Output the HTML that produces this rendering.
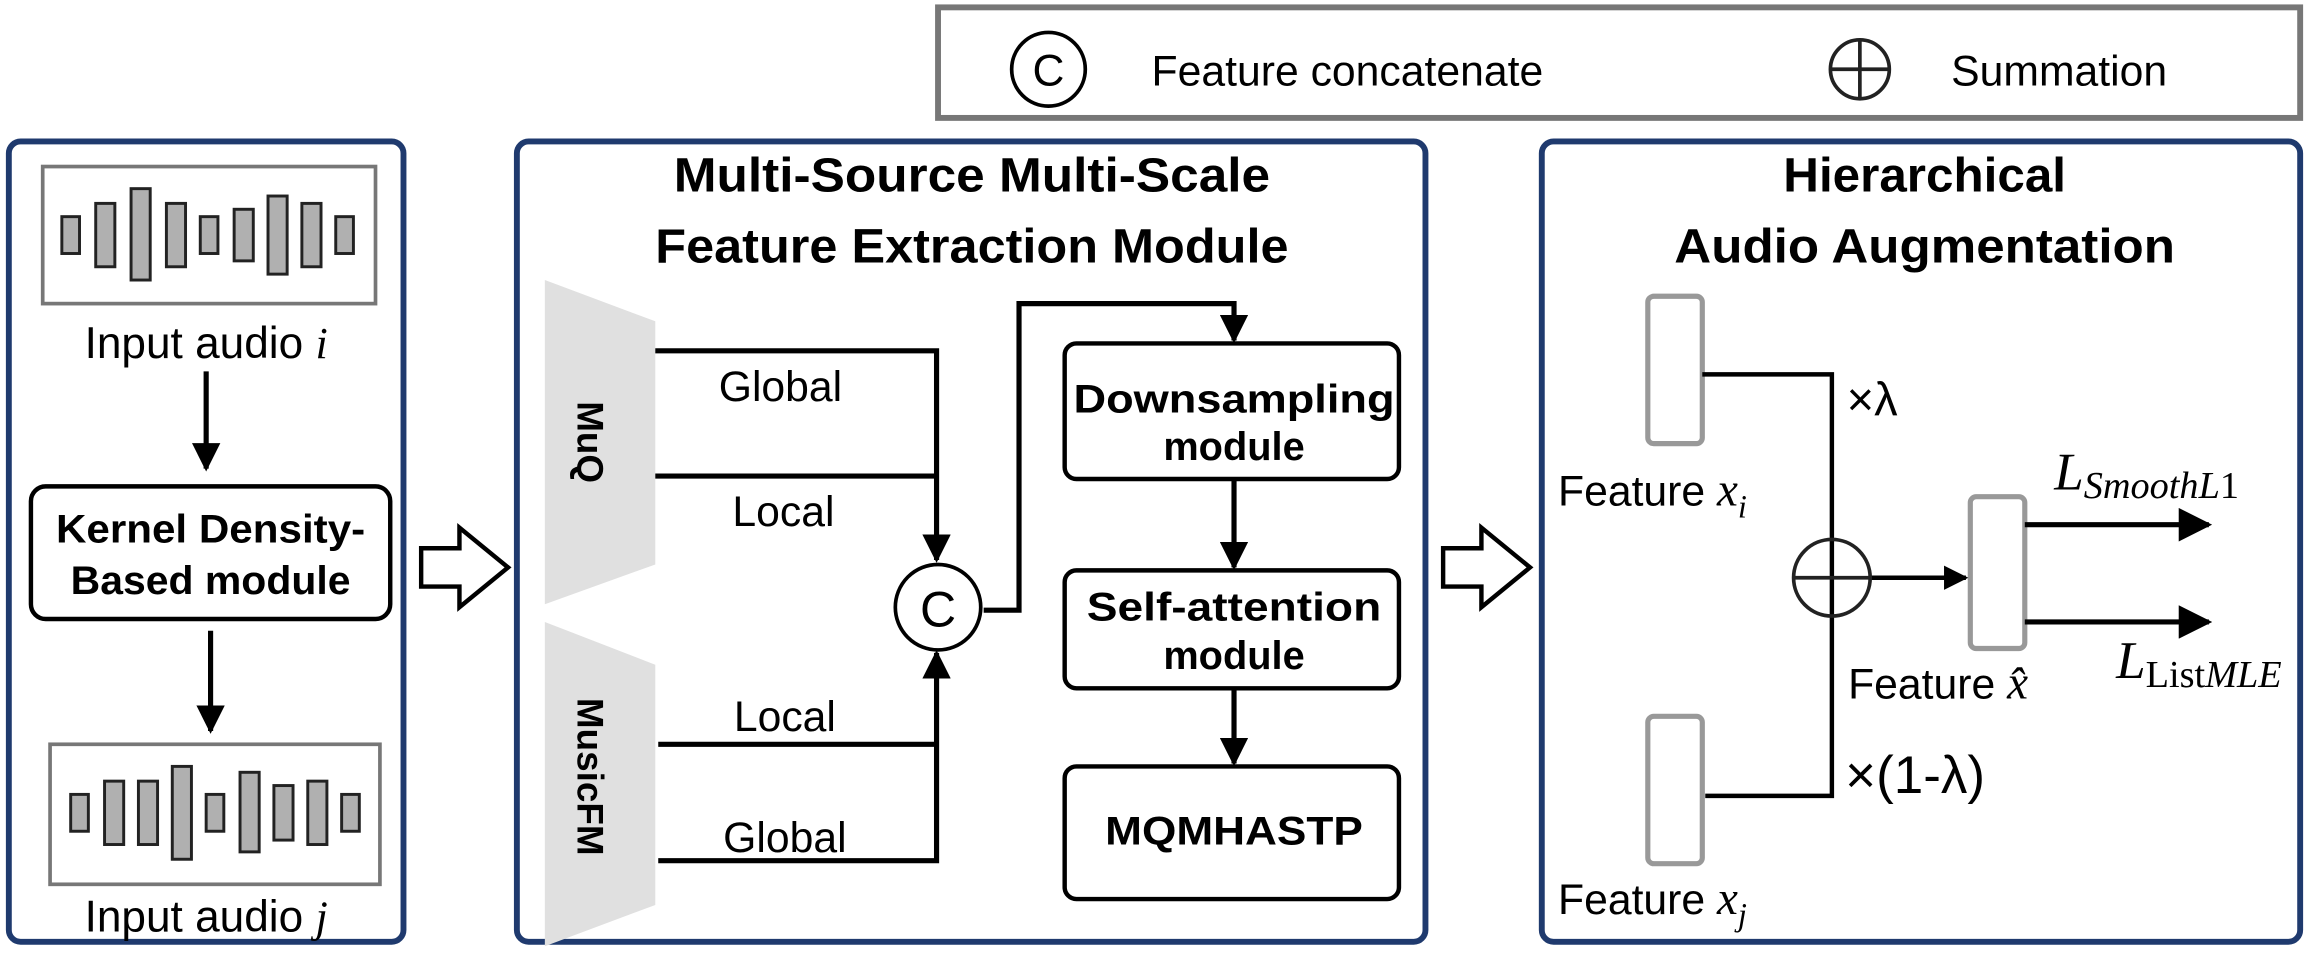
<!DOCTYPE html>
<html><head><meta charset="utf-8"><style>
html,body{margin:0;padding:0;background:#fff;}
svg{display:block;}
text{font-family:"Liberation Sans",sans-serif;}
.b{font-weight:bold;}
.m{font-family:"Liberation Serif",serif;font-style:italic;}
</style></head><body>
<svg width="2309" height="958" viewBox="0 0 1568 650" preserveAspectRatio="none" xmlns="http://www.w3.org/2000/svg">
<defs>
<marker id="ah" viewBox="0 0 10 10" refX="9" refY="5" markerWidth="5.5" markerHeight="5.5" orient="auto" markerUnits="strokeWidth">
<path d="M0,0 L10,5 L0,10 z" fill="#000"/></marker>
<marker id="ah2" viewBox="0 0 10 10" refX="9" refY="5" markerWidth="6.5" markerHeight="6.5" orient="auto" markerUnits="strokeWidth">
<path d="M0,0 L10,5 L0,10 z" fill="#000"/></marker>
</defs>
<!-- legend -->
<rect x="637" y="5" width="925" height="75" fill="#fff" stroke="#777" stroke-width="4"/>
<circle cx="712" cy="47" r="25" fill="none" stroke="#000" stroke-width="2.5"/>
<text x="712" y="58" font-size="30" text-anchor="middle">C</text>
<text x="782" y="58" font-size="29">Feature concatenate</text>
<circle cx="1263" cy="47" r="20" fill="none" stroke="#222" stroke-width="2.5"/>
<line x1="1243" y1="47" x2="1283" y2="47" stroke="#222" stroke-width="2.5"/>
<line x1="1263" y1="27" x2="1263" y2="67" stroke="#222" stroke-width="2.5"/>
<text x="1325" y="58" font-size="29">Summation</text>

<!-- left box -->
<rect x="6" y="96" width="268" height="543" rx="8" fill="#fff" stroke="#1f3a6e" stroke-width="4"/>
<rect x="29" y="113" width="226" height="93" fill="#fff" stroke="#777" stroke-width="2.5"/>
<g fill="#b0b0b0" stroke="#222" stroke-width="2">
<rect x="42" y="147" width="12" height="25"/><rect x="65" y="138" width="13" height="43"/><rect x="89" y="128" width="13" height="62"/><rect x="113" y="138" width="13" height="43"/><rect x="136" y="147" width="12" height="25"/><rect x="159" y="142" width="13" height="35"/><rect x="182" y="133" width="13" height="53"/><rect x="205" y="138" width="13" height="43"/><rect x="228" y="147" width="12" height="25"/>
</g>
<text x="140" y="243" font-size="30" text-anchor="middle">Input audio <tspan class="m">i</tspan></text>
<line x1="140" y1="252" x2="140" y2="318" stroke="#000" stroke-width="3.5" marker-end="url(#ah)"/>
<rect x="21" y="330" width="244" height="90" rx="10" fill="#fff" stroke="#000" stroke-width="3"/>
<text x="143" y="368" font-size="27" class="b" text-anchor="middle" textLength="210" lengthAdjust="spacingAndGlyphs">Kernel Density-</text>
<text x="143" y="403" font-size="27" class="b" text-anchor="middle" textLength="190" lengthAdjust="spacingAndGlyphs">Based module</text>
<line x1="143" y1="428" x2="143" y2="496" stroke="#000" stroke-width="3.5" marker-end="url(#ah)"/>
<rect x="34" y="505" width="224" height="95" fill="#fff" stroke="#777" stroke-width="2.5"/>
<g fill="#b0b0b0" stroke="#222" stroke-width="2">
<rect x="48" y="539" width="12" height="25"/><rect x="71" y="530" width="13" height="43"/><rect x="94" y="530" width="13" height="43"/><rect x="117" y="520" width="13" height="63"/><rect x="140" y="539" width="12" height="25"/><rect x="163" y="524" width="13" height="54"/><rect x="186" y="533" width="13" height="37"/><rect x="209" y="530" width="13" height="43"/><rect x="232" y="539" width="12" height="25"/>
</g>
<text x="140" y="632" font-size="30" text-anchor="middle">Input audio <tspan class="m">j</tspan></text>

<!-- hollow arrows -->
<path d="M286,372 L312,372 L312,358 L345,385 L312,412 L312,398 L286,398 Z" fill="#fff" stroke="#000" stroke-width="3"/>
<path d="M980,372 L1006,372 L1006,358 L1039,385 L1006,412 L1006,398 L980,398 Z" fill="#fff" stroke="#000" stroke-width="3"/>

<!-- middle box -->
<rect x="351" y="96" width="617" height="543" rx="8" fill="#fff" stroke="#1f3a6e" stroke-width="4"/>
<text x="660" y="130" font-size="33" class="b" text-anchor="middle" textLength="405" lengthAdjust="spacingAndGlyphs">Multi-Source Multi-Scale</text>
<text x="660" y="178" font-size="33" class="b" text-anchor="middle" textLength="430" lengthAdjust="spacingAndGlyphs">Feature Extraction Module</text>
<polygon points="370,190 445,218 445,383 370,410" fill="#e0e0e0"/>
<polygon points="370,422 445,451 445,614 370,642" fill="#e0e0e0"/>
<text transform="translate(392,300) rotate(90)" font-size="25" class="b" text-anchor="middle">MuQ</text>
<text transform="translate(392,527) rotate(90)" font-size="25" class="b" text-anchor="middle">MusicFM</text>
<g stroke="#000" stroke-width="3.5" fill="none">
<polyline points="445,238 636,238 636,380" marker-end="url(#ah)"/>
<line x1="445" y1="323" x2="636" y2="323"/>
<polyline points="447,584 636,584 636,443" marker-end="url(#ah)"/>
<line x1="447" y1="505" x2="636" y2="505"/>
<polyline points="668,414 692,414 692,206 838,206 838,231" marker-end="url(#ah)"/>
<line x1="838" y1="326" x2="838" y2="385" marker-end="url(#ah)"/>
<line x1="838" y1="468" x2="838" y2="518" marker-end="url(#ah)"/>
</g>
<text x="530" y="272" font-size="29" text-anchor="middle">Global</text>
<text x="532" y="357" font-size="29" text-anchor="middle">Local</text>
<text x="533" y="496" font-size="29" text-anchor="middle">Local</text>
<text x="533" y="578" font-size="29" text-anchor="middle">Global</text>
<circle cx="637" cy="412" r="29" fill="#fff" stroke="#000" stroke-width="2.5"/>
<text x="637" y="425" font-size="34" text-anchor="middle">C</text>
<rect x="723" y="233" width="227" height="92" rx="8" fill="#fff" stroke="#000" stroke-width="3"/>
<text x="838" y="280" font-size="27" class="b" text-anchor="middle" textLength="218" lengthAdjust="spacingAndGlyphs">Downsampling</text>
<text x="838" y="312" font-size="27" class="b" text-anchor="middle">module</text>
<rect x="723" y="387" width="227" height="80" rx="8" fill="#fff" stroke="#000" stroke-width="3"/>
<text x="838" y="421" font-size="27" class="b" text-anchor="middle" textLength="200" lengthAdjust="spacingAndGlyphs">Self-attention</text>
<text x="838" y="454" font-size="27" class="b" text-anchor="middle">module</text>
<rect x="723" y="520" width="227" height="90" rx="8" fill="#fff" stroke="#000" stroke-width="3"/>
<text x="838" y="573" font-size="27" class="b" text-anchor="middle" textLength="175" lengthAdjust="spacingAndGlyphs">MQMHASTP</text>

<!-- right box -->
<rect x="1047" y="96" width="515" height="543" rx="8" fill="#fff" stroke="#1f3a6e" stroke-width="4"/>
<text x="1307" y="130" font-size="33" class="b" text-anchor="middle" textLength="192" lengthAdjust="spacingAndGlyphs">Hierarchical</text>
<text x="1307" y="178" font-size="33" class="b" text-anchor="middle" textLength="340" lengthAdjust="spacingAndGlyphs">Audio Augmentation</text>
<rect x="1119" y="201" width="37" height="100" rx="4" fill="#fff" stroke="#999" stroke-width="3.5"/>
<rect x="1119" y="486" width="37" height="100" rx="4" fill="#fff" stroke="#999" stroke-width="3.5"/>
<rect x="1338" y="337" width="37" height="103" rx="4" fill="#fff" stroke="#999" stroke-width="3.5"/>
<g stroke="#000" stroke-width="3" fill="none">
<polyline points="1156,254 1244,254 1244,540 1158,540"/>
<line x1="1270" y1="392" x2="1335" y2="392" marker-end="url(#ah)"/>
<line x1="1375" y1="356" x2="1500" y2="356" stroke-width="3.5" marker-end="url(#ah2)"/>
<line x1="1375" y1="422" x2="1500" y2="422" stroke-width="3.5" marker-end="url(#ah2)"/>
</g>
<circle cx="1244" cy="392" r="26" fill="none" stroke="#222" stroke-width="2.5"/>
<line x1="1218" y1="392" x2="1270" y2="392" stroke="#222" stroke-width="2.5"/>
<text x="1254" y="282" font-size="32">×λ</text>
<text x="1253" y="538" font-size="36">×(1-λ)</text>
<text x="1058" y="343" font-size="29">Feature <tspan class="m" font-size="32">x</tspan><tspan class="m" font-size="22" dy="8">i</tspan></text>
<text x="1058" y="620" font-size="29">Feature <tspan class="m" font-size="32">x</tspan><tspan class="m" font-size="22" dy="8">j</tspan></text>
<text x="1255" y="474" font-size="29">Feature <tspan class="m" font-size="32">x̂</tspan></text>
<text x="1395" y="332" font-size="36" class="m">L<tspan font-size="26" dy="6">SmoothL</tspan><tspan font-size="26" font-style="normal">1</tspan></text>
<text x="1437" y="460" font-size="36" class="m">L<tspan font-size="26" dy="6" font-style="normal">List</tspan><tspan font-size="26">MLE</tspan></text>
</svg>
</body></html>
